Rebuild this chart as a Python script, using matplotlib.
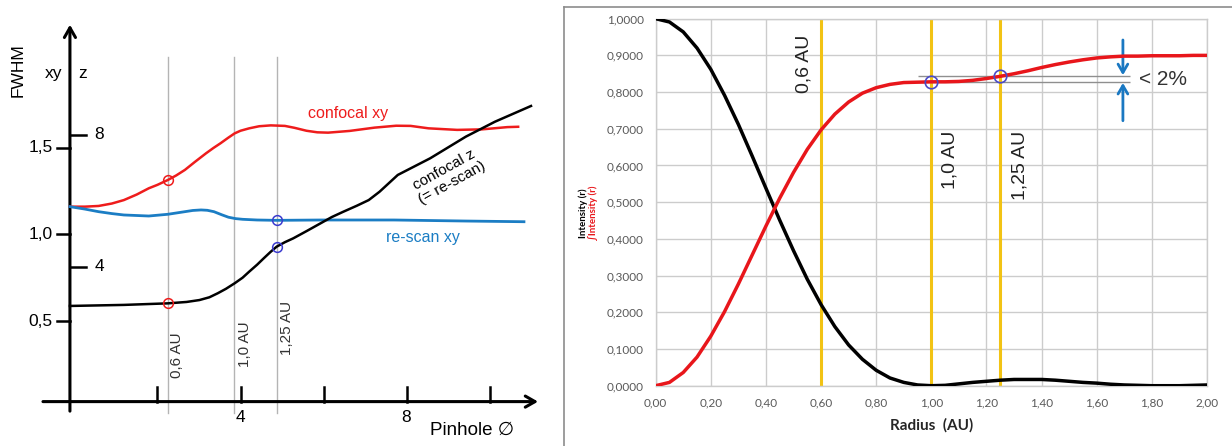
import numpy as np
import matplotlib
matplotlib.use("Agg")
import matplotlib.pyplot as plt
from matplotlib.lines import Line2D

plt.rcParams['font.family'] = ['Liberation Sans', 'DejaVu Sans']

# ---------------- left panel: FWHM vs pinhole diameter (sketch) ----------------
pinhole_ticks = [2, 4, 6, 8, 10]
pinhole_ticklabels = ['', '4', '', '8', '']
xy_ticks = [0.5, 1.0, 1.5]
xy_ticklabels = ['0,5', '1,0', '1,5']
z_ticks = [0.813, 1.574]
z_ticklabels = ['4', '8']
au_pos = [2.25, 3.84, 4.87]
au_labels = ['0,6 AU', '1,0 AU', '1,25 AU']

conf_xy_x = [-0.11, 0.25, 0.58, 0.9, 1.19, 1.5, 1.79, 2.0, 2.25, 2.45, 2.66, 2.9, 3.17, 3.35,
             3.52, 3.7, 3.86, 4.0, 4.21, 4.45, 4.73, 5.07, 5.3, 5.59, 5.85, 6.11, 6.63, 7.23,
             7.75, 8.10, 8.53, 9.22, 9.82, 10.43, 10.69]
conf_xy_y = [1.160, 1.160, 1.164, 1.178, 1.198, 1.230, 1.266, 1.286, 1.314, 1.340, 1.372, 1.418,
             1.468, 1.499, 1.526, 1.557, 1.583, 1.598, 1.612, 1.624, 1.629, 1.626, 1.615, 1.598,
             1.589, 1.587, 1.597, 1.616, 1.627, 1.626, 1.612, 1.603, 1.606, 1.619, 1.621]

rescan_x = [-0.11, 0.25, 0.58, 0.9, 1.19, 1.79, 2.25, 2.66, 2.85, 3.05, 3.2, 3.36, 3.55, 3.71,
            3.88, 4.05, 4.4, 4.87, 5.96, 7.70, 9.43, 10.83]
rescan_y = [1.160, 1.146, 1.131, 1.120, 1.112, 1.106, 1.116, 1.131, 1.138, 1.141, 1.139, 1.131,
            1.113, 1.099, 1.091, 1.087, 1.083, 1.081, 1.083, 1.083, 1.077, 1.073]

conf_z_x = [-0.11, 1.19, 2.25, 2.7, 3.01, 3.25, 3.45, 3.65, 3.86, 4.05, 4.21, 4.4, 4.56, 4.72,
            4.87, 5.07, 5.27, 5.6, 5.96, 6.2, 6.48, 6.8, 7.09, 7.35, 7.79, 8.57, 9.43, 10.13, 11.0]
conf_z_y = [0.587, 0.593, 0.602, 0.610, 0.621, 0.637, 0.660, 0.686, 0.718, 0.750, 0.785, 0.825,
            0.862, 0.898, 0.929, 0.955, 0.977, 1.020, 1.068, 1.100, 1.131, 1.165, 1.198, 1.246,
            1.343, 1.439, 1.564, 1.650, 1.741]

# ---------------- right panel: Airy intensity and encircled energy ----------------
radius = np.round(np.arange(0, 2.001, 0.05), 2)
intensity = [1.000, 0.991, 0.964, 0.920, 0.862, 0.791, 0.712, 0.626, 0.538, 0.451, 0.368,
             0.290, 0.221, 0.161, 0.111, 0.072, 0.042, 0.021, 0.009, 0.002, 0.000,
             0.001, 0.005, 0.009, 0.012, 0.015, 0.017, 0.017, 0.017, 0.015, 0.012,
             0.009, 0.007, 0.004, 0.002, 0.001, 0.000, 0.000, 0.000, 0.001, 0.002]
integral = [0.000, 0.009, 0.036, 0.078, 0.135, 0.202, 0.277, 0.356, 0.435, 0.511, 0.581,
            0.644, 0.697, 0.740, 0.773, 0.797, 0.812, 0.821, 0.826, 0.827, 0.828,
            0.828, 0.829, 0.832, 0.837, 0.843, 0.850, 0.858, 0.867, 0.875, 0.882,
            0.888, 0.893, 0.896, 0.898, 0.898, 0.899, 0.899, 0.899, 0.900, 0.900]
radius_ticks = [0.0, 0.2, 0.4, 0.6, 0.8, 1.0, 1.2, 1.4, 1.6, 1.8, 2.0]
radius_ticklabels = ['0,00', '0,20', '0,40', '0,60', '0,80', '1,00', '1,20', '1,40', '1,60', '1,80', '2,00']
int_ticks = [0.0, 0.1, 0.2, 0.3, 0.4, 0.5, 0.6, 0.7, 0.8, 0.9, 1.0]
int_ticklabels = ['0,0000', '0,1000', '0,2000', '0,3000', '0,4000', '0,5000',
                  '0,6000', '0,7000', '0,8000', '0,9000', '1,0000']
pinhole_au = [0.6, 1.0, 1.25]
pinhole_au_labels = ['0,6 AU', '1,0 AU', '1,25 AU']
marked_r = [1.0, 1.25]
marked_v = [0.828, 0.843]

RED = '#ee1c1c'
BLUE = '#1b7dc4'

fig = plt.figure(figsize=(12.32, 4.46), dpi=100)

# ======== left ========
axL = fig.add_axes([0.03352, 0.04709, 0.4076, 0.9325])
axL.set_xlim(-0.8, 11.3)
axL.set_ylim(-0.1, 2.3)
axL.axis('off')

arrow = dict(arrowstyle='->,head_length=0.7,head_width=0.4', lw=2.2, color='black',
             shrinkA=0, shrinkB=0)
axL.annotate('', xy=(11.17, 0.035), xytext=(-0.76, 0.035), arrowprops=arrow)
axL.annotate('', xy=(-0.11, 2.21), xytext=(-0.11, -0.02), arrowprops=arrow)

for t, lab in zip(pinhole_ticks, pinhole_ticklabels):
    axL.plot([t, t], [0.035, 0.122], color='black', lw=1.8)
    if lab:
        axL.text(t, -0.055, lab, ha='center', va='center', fontsize=12.5)
for v, lab in zip(xy_ticks, xy_ticklabels):
    axL.plot([-0.42, -0.11], [v, v], color='black', lw=1.8)
    axL.text(-0.52, v, lab, ha='right', va='center', fontsize=12.5)
for v, lab in zip(z_ticks, z_ticklabels):
    axL.plot([-0.11, 0.27], [v, v], color='black', lw=1.8)
    axL.text(0.59, v, lab, ha='center', va='center', fontsize=12.5)

axL.text(-1.36, 1.95, 'FWHM', rotation=90, ha='center', va='center', fontsize=12.5)
axL.text(-0.51, 1.93, 'xy', ha='center', va='center', fontsize=12.5)
axL.text(0.2, 1.93, 'z', ha='center', va='center', fontsize=12.5)
axL.text(9.58, -0.13, 'Pinhole \u2205', ha='center', va='center', fontsize=13.5)

for x in au_pos:
    axL.plot([x, x], [-0.03, 2.025], color='#b4b4b4', lw=1, zorder=1)
for (x, y), lab in zip([(2.48, 0.304), (4.11, 0.368), (5.12, 0.458)], au_labels):
    axL.text(x, y, lab, rotation=90, ha='center', va='center', fontsize=11, color='#333333')

axL.plot(conf_xy_x, conf_xy_y, color=RED, lw=1.8, zorder=3)
axL.plot(rescan_x, rescan_y, color=BLUE, lw=2.0, zorder=3)
axL.plot(conf_z_x, conf_z_y, color='black', lw=1.8, zorder=3)

axL.plot([au_pos[0], au_pos[0]], [1.314, 0.602], 'o', ms=7, mfc='none',
         mec=RED, mew=1.1, zorder=4)
axL.plot([au_pos[2], au_pos[2]], [1.081, 0.929], 'o', ms=7, mfc='none',
         mec='#3b3bcf', mew=1.1, zorder=4)

axL.text(6.59, 1.70, 'confocal xy', color=RED, ha='center', va='center', fontsize=11.5)
axL.text(8.40, 0.983, 're-scan xy', color=BLUE, ha='center', va='center', fontsize=11.5)
axL.text(9.0, 1.333, 'confocal z\n(= re-scan)', rotation=29, rotation_mode='anchor',
         ha='center', va='center', fontsize=11, linespacing=1.1)

# ======== right ========
axR = fig.add_axes([0.5322, 0.1352, 0.4475, 0.8229])
axR.set_xlim(0, 2)
axR.set_ylim(0, 1)
axR.set_xticks(radius_ticks)
axR.set_xticklabels(radius_ticklabels)
axR.set_yticks(int_ticks)
axR.set_yticklabels(int_ticklabels)
axR.grid(True, color='#cccccc', lw=1.0)
axR.set_axisbelow(True)
axR.tick_params(length=0, pad=8.5, labelsize=8.5, labelcolor='#595959')
for lbl in axR.get_xticklabels() + axR.get_yticklabels():
    lbl.set_fontfamily(['Lato', 'DejaVu Sans'])
for s in axR.spines.values():
    s.set_color('#cccccc')
    s.set_linewidth(1.0)

for x in pinhole_au:
    axR.axvline(x, color='#f2c314', lw=2.2, zorder=2)

axR.plot(radius, intensity, color='black', lw=2.5, zorder=4)
axR.plot(radius, integral, color='#e8161b', lw=2.5, zorder=4)

axR.hlines(marked_v, 0.95, 1.72, color='#8f8f8f', lw=1.0, zorder=3)
axR.plot(marked_r, marked_v, 'o', ms=9, mfc='none', mec='#4a4ac8', mew=1.2, zorder=5)

barrow = dict(arrowstyle='->,head_length=0.6,head_width=0.35', lw=2.0, color='#1a78c2',
              shrinkA=0, shrinkB=0)
axR.annotate('', xy=(1.695, marked_v[1] + 0.003), xytext=(1.695, 0.942), arrowprops=barrow)
axR.annotate('', xy=(1.695, marked_v[0] - 0.003), xytext=(1.695, 0.722), arrowprops=barrow)
axR.text(1.84, 0.833, '< 2%', ha='center', va='center', fontsize=15, color='#333333')

for (x, y), lab in zip([(0.538, 0.878), (1.069, 0.615), (1.321, 0.599)], pinhole_au_labels):
    axR.text(x, y, lab, rotation=90, ha='center', va='center', fontsize=14, color='#222222')

axR.text(-0.264, 0.47, 'Intensity (r)', rotation=90, ha='center', va='center', fontsize=7,
         fontweight='bold', color='black', family=['Lato', 'DejaVu Sans'])
axR.text(-0.227, 0.47, '\u222bIntensity (r)', rotation=90, ha='center', va='center', fontsize=7,
         fontweight='bold', color='#e8161b', family=['Lato', 'DejaVu Sans'])
axR.text(1.0, -0.107, 'Radius  (AU)', ha='center', va='center', fontsize=11,
         fontweight='bold', color='#262626', family=['Lato', 'DejaVu Sans'])

# chart-area border of the right picture
bx = 564 / 1232
by = 1 - 7 / 446
fig.add_artist(Line2D([bx, bx], [0, by], transform=fig.transFigure, color='#8c8c8c', lw=1.2))
fig.add_artist(Line2D([bx, 1], [by, by], transform=fig.transFigure, color='#8c8c8c', lw=1.2))

fig.savefig('out.png', dpi=100)
